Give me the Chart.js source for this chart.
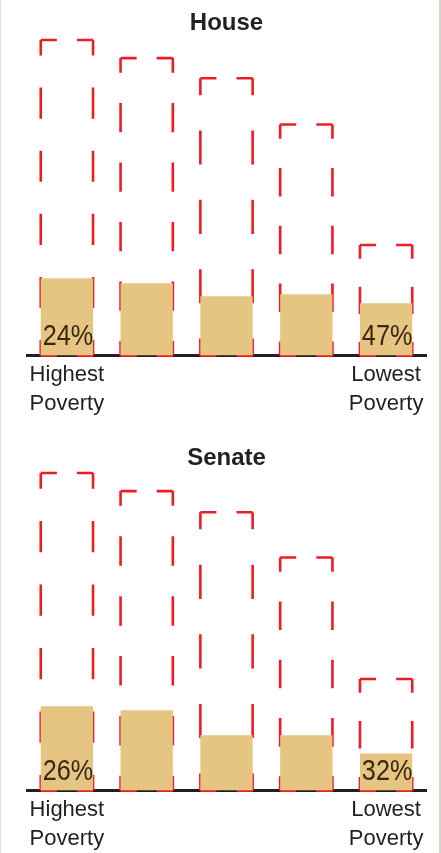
<!DOCTYPE html>
<html>
<head>
<meta charset="utf-8">
<script src="https://cdn.jsdelivr.net/npm/chart.js@4"></script>
<style>
  body { margin: 0; background: #fff; }
  #page { width: 441px; height: 853px; position: relative; box-sizing: border-box;
          border-left: 1px solid #e4e0dc; border-right: 2px solid #d6d2ce; }
  .box { position: absolute; left: 0; width: 438px; }
  #houseBox { top: 0; height: 430px; }
  #senateBox { top: 430px; height: 423px; }
</style>
</head>
<body>
<div id="page">
  <div class="box" id="houseBox"><canvas id="houseChart"></canvas></div>
  <div class="box" id="senateBox"><canvas id="senateChart"></canvas></div>
</div>
<script>
// groups, from highest poverty to lowest poverty
const categories = [['Highest', 'Poverty'], '', '', '', ['Lowest', 'Poverty']];

// House: dashed outline = all, tan fill = share
const houseTotal = [314, 296, 276, 230, 110];
const houseShare = [77, 72, 59, 61, 52];
const housePct = ['24%', '', '', '', '47%'];

// Senate
const senateTotal = [316, 298, 277, 232, 111];
const senateShare = [84, 80, 55, 55, 37];
const senatePct = ['26%', '', '', '', '32%'];

const RED = '#ee1c25';
const TAN = '#e6c482';
const INK = '#231f20';

// bars in chart.js fill their border, so the dashed outline is stroked here
function dashedSide(ctx, x1, y1, x2, y2, dash, gap) {
  const len = Math.hypot(x2 - x1, y2 - y1);
  const n = Math.max(1, Math.round(len / (dash + gap)));
  const s = len / (n * (dash + gap));
  ctx.setLineDash([dash * s, gap * s]);
  ctx.lineDashOffset = dash * s / 2;
  ctx.beginPath();
  ctx.moveTo(x1, y1);
  ctx.lineTo(x2, y2);
  ctx.stroke();
}

const outlinePlugin = {
  id: 'outline',
  beforeDatasetsDraw(chart) {
    const ctx = chart.ctx;
    const meta = chart.getDatasetMeta(0);
    ctx.save();
    ctx.strokeStyle = RED;
    ctx.lineWidth = 2.6;
    meta.data.forEach(function(bar) {
      const l = bar.x - bar.width / 2, r = bar.x + bar.width / 2;
      const t = bar.y, b = bar.base;
      dashedSide(ctx, l, t, r, t, 32, 20);
      dashedSide(ctx, l, b, r, b, 32, 20);
      dashedSide(ctx, l, t, l, b, 31, 32);
      dashedSide(ctx, r, t, r, b, 31, 32);
    });
    ctx.restore();
  }
};

// percent labels, a bit condensed like the original type
const pctPlugin = {
  id: 'pct',
  afterDatasetsDraw(chart, args, opts) {
    const ctx = chart.ctx;
    const meta = chart.getDatasetMeta(1);
    meta.data.forEach(function(bar, i) {
      if (!opts.labels[i]) return;
      ctx.save();
      ctx.translate(bar.x + 1, bar.base - 11);
      ctx.scale(0.87, 1);
      ctx.fillStyle = '#3a2814';
      ctx.font = '29px "Liberation Sans", Arial, sans-serif';
      ctx.textAlign = 'center';
      ctx.textBaseline = 'alphabetic';
      ctx.fillText(opts.labels[i], 0, 0);
      ctx.restore();
    });
  }
};

function makeChart(id, title, total, share, pct, titlePad, bottomPad) {
  return new Chart(document.getElementById(id), {
    type: 'bar',
    data: {
      labels: categories,
      datasets: [
        { data: total, backgroundColor: 'rgba(0,0,0,0)', borderWidth: 0, grouped: false,
          barPercentage: 1, categoryPercentage: 0.655 },
        { data: share, backgroundColor: TAN, borderWidth: 0, grouped: false,
          barPercentage: 1, categoryPercentage: 0.655 }
      ]
    },
    options: {
      responsive: true,
      maintainAspectRatio: false,
      animation: false,
      layout: { padding: { left: 26, right: 13, top: 0, bottom: bottomPad } },
      plugins: {
        legend: { display: false },
        tooltip: { enabled: false },
        title: {
          display: true, text: title, color: INK,
          font: { family: '"Liberation Sans", Arial, sans-serif', size: 24, weight: 'bold', lineHeight: 1.2 },
          padding: titlePad
        },
        pct: { labels: pct }
      },
      scales: {
        x: {
          z: 1,
          grid: { display: false, drawTicks: false },
          border: { display: true, color: INK, width: 3 },
          ticks: {
            color: INK, padding: 4, maxRotation: 0, autoSkip: false,
            font: { family: '"Liberation Sans", Arial, sans-serif', size: 22, lineHeight: 1.35 }
          }
        },
        y: { display: false, min: 0, max: 316 }
      }
    },
    plugins: [outlinePlugin, pctPlugin]
  });
}

makeChart('houseChart', 'House', houseTotal, houseShare, housePct, { top: 8.6, bottom: 0.6 }, 7);
makeChart('senateChart', 'Senate', senateTotal, senateShare, senatePct, { top: 14, bottom: 0.2 }, -5);
</script>
</body>
</html>
